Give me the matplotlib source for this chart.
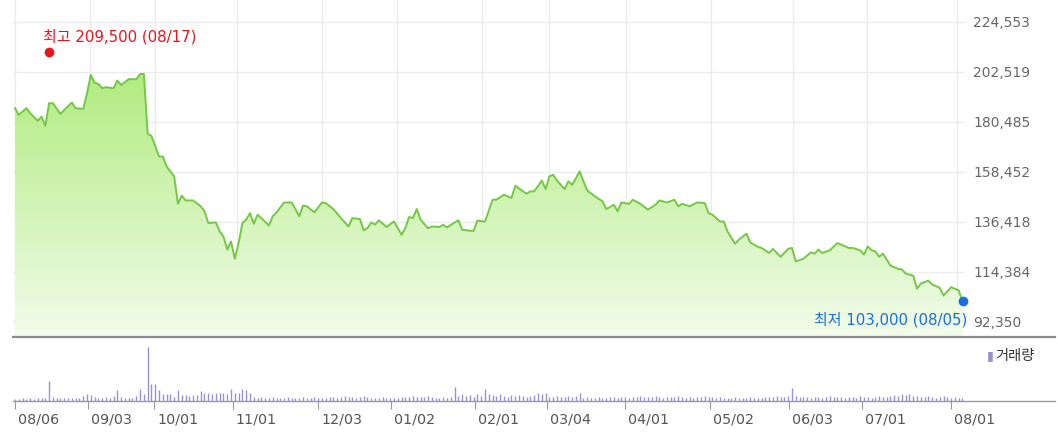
import numpy as np
import matplotlib
matplotlib.use('Agg')
import matplotlib.pyplot as plt
from matplotlib.colors import LinearSegmentedColormap
from matplotlib.transforms import ScaledTranslation

plt.rcParams['font.family'] = ['DejaVu Sans', 'Noto Sans CJK KR']

# closing price per trading day (day 0 = 08/06)
price_day = [0, 1, 3, 4, 6, 7, 8, 9, 10, 12,
             13, 15, 16, 18, 19, 20, 21, 22, 23, 24,
             26, 27, 28, 30, 32, 33, 34, 35, 36, 38,
             39, 40, 42, 43, 44, 45, 47, 49, 50, 51,
             53, 54, 55, 56, 57, 58, 59, 60, 61, 62,
             63, 64, 65, 67, 68, 69, 71, 73, 74, 75,
             76, 77, 79, 81, 82, 84, 86, 88, 89, 91,
             92, 93, 94, 95, 96, 98, 100, 102, 103, 104,
             105, 106, 107, 109, 110, 112, 113, 114, 115, 117,
             118, 120, 121, 122, 124, 126, 127, 129, 130, 131,
             132, 134, 135, 136, 137, 139, 140, 141, 142, 143,
             145, 146, 147, 149, 150, 151, 153, 155, 156, 157,
             158, 159, 160, 162, 163, 165, 167, 169, 170, 172,
             174, 175, 176, 178, 180, 182, 183, 184, 186, 187,
             188, 190, 191, 193, 194, 196, 197, 199, 200, 202,
             204, 205, 206, 208, 210, 211, 212, 213, 215, 217,
             218, 220, 221, 223, 224, 225, 226, 227, 228, 229,
             230, 231, 233, 234, 235, 237, 238, 239, 241, 242,
             244, 245, 247, 248, 249, 250]
price_close = [186500, 183600, 186500, 184300, 180900, 182800, 178700, 188700, 188700, 184000,
               185800, 189000, 186500, 186200, 193100, 201200, 197800, 197200, 195300, 195800,
               195300, 198700, 196800, 199300, 199300, 201600, 201600, 175200, 174300, 165200,
               165200, 160800, 156400, 144300, 147900, 145800, 145800, 143200, 141000, 135800,
               136100, 132100, 129900, 124100, 127700, 120000, 127000, 135800, 137300, 140200,
               135500, 139500, 138000, 134700, 138800, 140500, 144900, 144900, 142000, 138800,
               143500, 143200, 140500, 144900, 144600, 142000, 138000, 134300, 138000, 137600,
               132600, 133600, 136100, 135100, 137000, 134100, 136500, 130600, 133600, 138500,
               138000, 142000, 137300, 133500, 134300, 134100, 135000, 133900, 135000, 137000,
               132900, 132400, 132400, 136900, 136400, 146100, 146100, 148300, 147600, 146900,
               152300, 149800, 148800, 149800, 149800, 154600, 150800, 156400, 157100, 154600,
               150800, 154200, 152700, 158600, 154200, 150200, 147600, 145400, 142000, 142900,
               143900, 141000, 144900, 144300, 146100, 144300, 141700, 143900, 145800, 144900,
               146100, 143200, 144300, 143200, 144900, 144600, 140200, 139500, 136500, 136500,
               132100, 126700, 128500, 131100, 127300, 125300, 124800, 122600, 124400, 120900,
               124400, 124800, 118900, 120000, 122900, 122300, 124100, 122600, 123800, 127000,
               126300, 124800, 124800, 123800, 121900, 125500, 123800, 123300, 120900, 122300,
               119700, 117000, 115600, 115300, 113500, 112600, 106800, 109100, 110400, 108700,
               107200, 103800, 107500, 106800, 106100, 101300]

# traded volume, relative units, one per trading day
volume = [2, 2, 3, 2, 3, 2, 3, 3, 3, 20,
          4, 3, 3, 3, 3, 3, 3, 3, 5, 7, 6,
          4, 3, 3, 4, 3, 5, 11, 4, 3, 3, 3, 5, 12, 7, 54, 17, 17, 11,
          7, 7, 7, 4, 11, 6, 6, 5, 6, 6, 10, 8, 8, 7, 8, 8, 8, 7, 12, 8, 8, 12, 11, 8,
          4, 3, 4, 3, 3, 4, 3, 3, 3, 4, 3, 3, 3, 4, 3, 3, 4, 3, 3, 3,
          4, 4, 3, 4, 5, 4, 4, 3, 4, 5, 4, 3, 3, 3, 4, 3, 3, 3, 3, 4,
          4, 4, 5, 4, 4, 4, 5, 4, 3, 3, 4, 3, 4,
          14, 5, 7, 5, 6, 4, 7, 5, 12,
          7, 6, 5, 7, 5, 4, 6, 5, 6, 5, 4,
          5, 6, 8, 7, 8, 4, 4, 5, 4, 4, 5, 4, 5, 8,
          3, 4, 3, 3, 4, 3, 3, 4, 4, 3, 4, 4, 3, 4, 4, 5, 4, 4, 4, 5,
          4, 3, 4, 4, 4, 5, 4, 3, 4, 3, 4, 4,
          5, 4, 4, 3, 4, 3, 3, 3, 4, 3, 3, 3, 4, 3, 3, 3, 4, 4, 4, 5, 4, 4, 5,
          13,
          5, 4, 4, 4, 3, 4, 4, 3, 4, 5, 4, 4, 4, 3, 4, 4, 3, 5, 4, 4, 3, 4, 5, 4, 4,
          5, 6, 5, 7, 6, 7, 5, 5,
          4, 4, 5, 4, 3, 4, 5, 4, 3, 4, 3, 3]

y_ticks = [92350, 114384, 136418, 158452, 180485, 202519, 224553]
grid_days = [0, 19.8, 36.9, 58.6, 81.0, 100.7, 123.1, 140.9, 161.2, 183.6, 205.3, 224.7, 248.5]
tick_days = [0, 19.3, 36.7, 57.5, 80.0, 99.2, 121.4, 140.4, 161.0, 183.4, 204.2, 223.5, 247.0]
tick_labels = ['08/06', '09/03', '10/01', '11/01', '12/03', '01/02', '02/01',
               '03/04', '04/01', '05/02', '06/03', '07/01', '08/01']

hi_day, hi_dot = 9, 211300
hi_text = '최고 209,500 (08/17)'
lo_text = '최저 103,000 (08/05)'

line_color = '#74c845'
vol_color = '#9d8fd6'

W, H = 1058, 438
fig = plt.figure(figsize=(W / 100, H / 100), dpi=100)
fig.patch.set_facecolor('white')

day0_px, px_per_day = 15, 3.79


def px_to_day(px):
    return (px - day0_px) / px_per_day


ax1 = fig.add_axes([13 / W, 1 - 337 / H, (965 - 13) / W, 337 / H])
ax2 = fig.add_axes([13 / W, 1 - 401 / H, (1055 - 13) / W, 64 / H])

# price panel
ax1.set_xlim(px_to_day(13), px_to_day(965))
ax1.set_ylim(85508, 234264)
y0, y1 = ax1.get_ylim()
x0, x1 = ax1.get_xlim()

poly = ax1.fill_between(price_day, price_close, y0, color='none', lw=0)
cmap = LinearSegmentedColormap.from_list('fillgrad', ['#a0e763', '#f2fceb'])
grad = np.linspace(0, 1, 256).reshape(-1, 1)
im = ax1.imshow(grad, cmap=cmap, extent=[x0, x1, y0, y1], aspect='auto',
                origin='upper', zorder=1)
im.set_clip_path(poly.get_paths()[0], transform=ax1.transData)

ax1.plot(price_day, price_close, color=line_color, lw=1.4, zorder=3)

ax1.set_yticks(y_ticks)
ax1.set_yticklabels([f'{v:,}' for v in y_ticks])
ax1.set_xticks(grid_days)
ax1.grid(True, color='#ebebeb', lw=1, zorder=0)
ax1.set_axisbelow(True)
ax1.yaxis.tick_right()
ax1.tick_params(axis='x', length=0, labelbottom=False)
ax1.tick_params(axis='y', length=0, pad=6, labelsize=10, labelcolor='#666666')
for s in ax1.spines.values():
    s.set_visible(False)

# high / low markers
ax1.plot([hi_day], [hi_dot], 'o', color='#e8141d', ms=6, zorder=4)
ax1.annotate(hi_text, (hi_day, hi_dot), xytext=(-6, 15), textcoords='offset pixels',
             color='#e8141d', fontsize=10.8, ha='left', va='center')
ax1.plot([price_day[-1]], [price_close[-1]], 'o', color='#1a6fe0', ms=6, zorder=4,
         clip_on=False)
ax1.annotate(lo_text, (price_day[-1], price_close[-1]), xytext=(5, -19),
             textcoords='offset pixels', color='#1a6fe0', fontsize=10.8,
             ha='right', va='center')

# volume panel
ax2.set_xlim(px_to_day(13), px_to_day(1055))
ax2.set_ylim(0, max(volume) * 1.185)
ax2.vlines(np.arange(len(volume)), 0, volume, color=vol_color, lw=1)
ax2.set_yticks([])
ax2.set_xticks(tick_days)
ax2.set_xticklabels(tick_labels)
ax2.tick_params(axis='x', direction='out', length=6, color='#999999',
                labelsize=10.3, labelcolor='#555555', pad=2)
shift = ScaledTranslation(3 / 100, 0, fig.dpi_scale_trans)
for lab in ax2.get_xticklabels():
    lab.set_horizontalalignment('left')
    lab.set_transform(lab.get_transform() + shift)
ax2.spines['left'].set_visible(False)
ax2.spines['right'].set_visible(False)
ax2.spines['top'].set_color('#8c8c8c')
ax2.spines['top'].set_linewidth(1.6)
ax2.spines['bottom'].set_color('#9a9a9a')
ax2.spines['bottom'].set_linewidth(1)
ax2.patch.set_alpha(0)

fig.text(987 / W, 1 - 356 / H, '▮', color=vol_color, fontsize=9, va='center')
fig.text(995 / W, 1 - 356 / H, '거래량', color='#333333', fontsize=10.3, va='center')

fig.savefig('out.png', dpi=100)
